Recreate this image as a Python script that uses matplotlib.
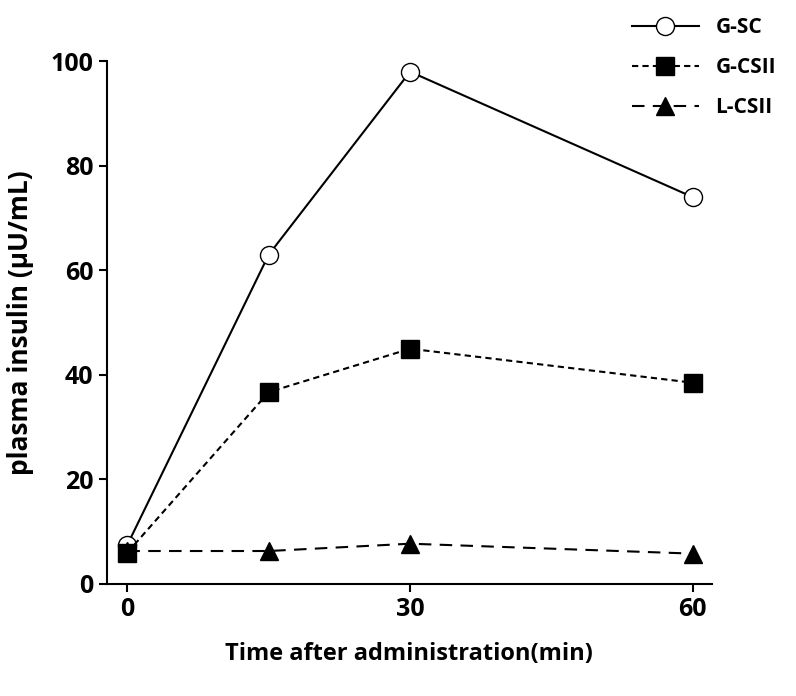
import matplotlib.pyplot as plt

plt.rcParams['font.family'] = 'Open Sans'
plt.rcParams['font.weight'] = 'bold'

# Data
time_min = [0, 15, 30, 60]
g_sc = [7.5, 63, 98, 74]
g_csii = [6, 36.7, 45, 38.5]
l_csii = [6.3, 6.3, 7.7, 5.8]

fig = plt.figure(figsize=(7.96, 6.96), dpi=100)
ax = fig.add_axes([0.134, 0.161, 0.76, 0.751])

ax.plot(time_min, g_sc, color='black', linestyle='-', linewidth=1.5,
        marker='o', markersize=13, markerfacecolor='white', markeredgecolor='black', label='G-SC')
ax.plot(time_min, g_csii, color='black', linestyle=(0, (3, 2)), linewidth=1.5,
        marker='s', markersize=13, markerfacecolor='black', label='G-CSII')
ax.plot(time_min, l_csii, color='black', linestyle=(0, (6, 4)), linewidth=1.5,
        marker='^', markersize=13, markerfacecolor='black', label='L-CSII')

ax.set_xlim(-2.2, 62)
ax.set_ylim(0, 100)
ax.set_xticks([0, 30, 60])
ax.set_yticks([0, 20, 40, 60, 80, 100])
ax.tick_params(labelsize=18, width=1.5, length=6)
ax.spines['top'].set_visible(False)
ax.spines['right'].set_visible(False)
ax.spines['left'].set_linewidth(1.5)
ax.spines['bottom'].set_linewidth(1.5)
for lbl in ax.get_xticklabels() + ax.get_yticklabels():
    lbl.set_fontweight('bold')

ax.set_xlabel('Time after administration(min)', fontsize=17, fontweight='bold', labelpad=14)
ax.set_ylabel('plasma insulin (µU/mL)', fontsize=19, fontweight='bold', labelpad=12)

leg = ax.legend(loc='upper right', bbox_to_anchor=(1.12, 1.1), frameon=False,
                fontsize=15, handlelength=3.2, labelspacing=0.9, borderaxespad=0)
for t in leg.get_texts():
    t.set_fontweight('bold')

fig.savefig('out.png', dpi=100)
